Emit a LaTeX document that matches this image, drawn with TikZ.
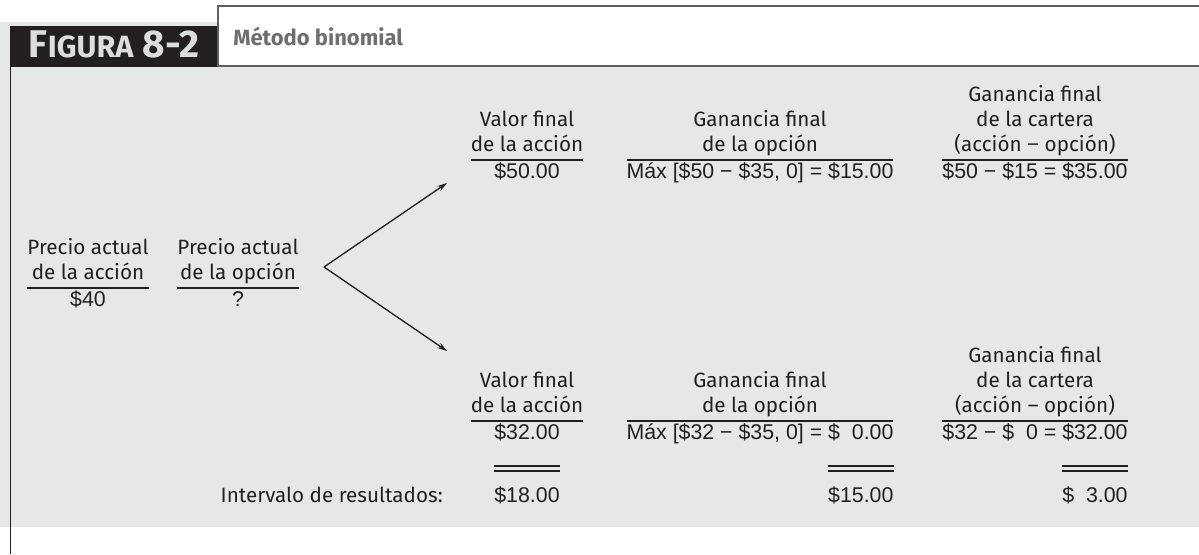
\documentclass[tikz,border=0pt]{standalone}
\usepackage{fontspec}
\setmainfont{Fira Sans}
\newfontfamily\numfont{Liberation Sans}
\usetikzlibrary{arrows.meta, calc}
\definecolor{ink}{HTML}{231F20}
\definecolor{panel}{HTML}{E6E7E8}
\definecolor{tabline}{HTML}{5F6062}
\definecolor{titlegray}{HTML}{6D6E71}
\definecolor{capgray}{HTML}{DCDDDE}
\newcommand{\lblsize}{\fontsize{15.5}{18.75}\selectfont}
\newcommand{\num}[1]{{\numfont\fontsize{16}{18.75}\selectfont #1}}
\newcommand{\fig}{\phantom{1}}
\setlength{\arrayrulewidth}{0.9pt}

\begin{document}
\begin{tikzpicture}[x=0.75pt,y=-0.75pt,
  block/.style={anchor=base, inner sep=0pt, font=\lblsize, text=ink},
  result/.style={inner sep=0pt, font=\numfont\fontsize{16}{18.75}\selectfont, text=ink},
  branch/.style={line width=1pt, color=ink, -{Stealth[length=7.5pt,width=4.5pt]}},
  dbl/.style={line width=0.9pt, color=ink}]
\useasboundingbox (0,0) rectangle (1199,554);
% frame and heading
\fill[panel] (0,22) rectangle (218,67);
\fill[panel] (0,66) rectangle (1199,527);
\fill[ink] (10,26) rectangle (218,67);
\draw[tabline, line width=1.5pt] (218,67) -- (218,6) -- (1199,6);
\draw[tabline, line width=1.5pt] (218,66) -- (1199,66);
\draw[ink, line width=1.2pt] (10.5,67) -- (10.5,554);
\node[anchor=base, inner sep=0pt, text=capgray, font=\bfseries] (figcap) at (114,57)
  {{\fontsize{29}{29}\selectfont F}{\fontsize{23}{23}\selectfont IGURA}\fontsize{29}{29}\selectfont\ 8-2};
\node[anchor=base west, inner sep=0pt, text=titlegray, font=\bfseries\fontsize{16.5}{19}\selectfont] (figtitle) at (233,45) {Método binomial};

% today
\node[block] (nowStock) at (88,306) {\begin{tabular}[b]{@{}c@{}}Precio actual\\ de la acción\\ \hline \num{\$40}\end{tabular}};
\node[block] (nowOpt) at (238,306) {\begin{tabular}[b]{@{}c@{}}Precio actual\\ de la opción\\ \hline \num{?}\end{tabular}};

% the two branches
\coordinate (fork) at (324,267);
\coordinate (upTip) at (447,183);
\coordinate (dnTip) at (447,351);
\draw[branch] (fork) -- (upTip);
\draw[branch] (fork) -- (dnTip);

% price goes up
\node[block] (upStock) at (527,178) {\begin{tabular}[b]{@{}c@{}}Valor final\\ de la acción\\ \hline \num{\$50.00}\end{tabular}};
\node[block] (upOpt) at (760,178) {\begin{tabular}[b]{@{}c@{}}Ganancia final\\ de la opción\\ \hline \num{Máx [\$50 − \$35, 0] = \$15.00}\end{tabular}};
\node[block] (upPort) at (1035,178) {\begin{tabular}[b]{@{}c@{}}Ganancia final\\ de la cartera\\ (acción {\numfont −} opción)\\ \hline \num{\$50 − \$15 = \$35.00}\end{tabular}};

% price goes down
\node[block] (dnStock) at (527,439) {\begin{tabular}[b]{@{}c@{}}Valor final\\ de la acción\\ \hline \num{\$32.00}\end{tabular}};
\node[block] (dnOpt) at (760,439) {\begin{tabular}[b]{@{}c@{}}Ganancia final\\ de la opción\\ \hline \num{Máx [\$32 − \$35, 0] = \$\fig0.00}\end{tabular}};
\node[block] (dnPort) at (1035,439) {\begin{tabular}[b]{@{}c@{}}Ganancia final\\ de la cartera\\ (acción – opción)\\ \hline \num{\$32 − \$\fig0 = \$32.00}\end{tabular}};

% spread of outcomes
\node[block, anchor=base east] (spreadLbl) at (443,502) {Intervalo de resultados:};
\node[result, anchor=base] (spreadStock) at (527,502) {\$18.00};
\node[result, anchor=base east] (spreadOpt) at ($(dnOpt.base east)+(0,63)$) {\$15.00};
\node[result, anchor=base east] (spreadPort) at ($(dnPort.base east)+(0,63)$) {\$\fig3.00};
\foreach \r in {spreadStock, spreadOpt, spreadPort} {
  \draw[dbl] ($(\r.base west)+(0,-36)$) -- ($(\r.base east)+(0,-36)$);
  \draw[dbl] ($(\r.base west)+(0,-31)$) -- ($(\r.base east)+(0,-31)$);
}
\end{tikzpicture}
\end{document}
